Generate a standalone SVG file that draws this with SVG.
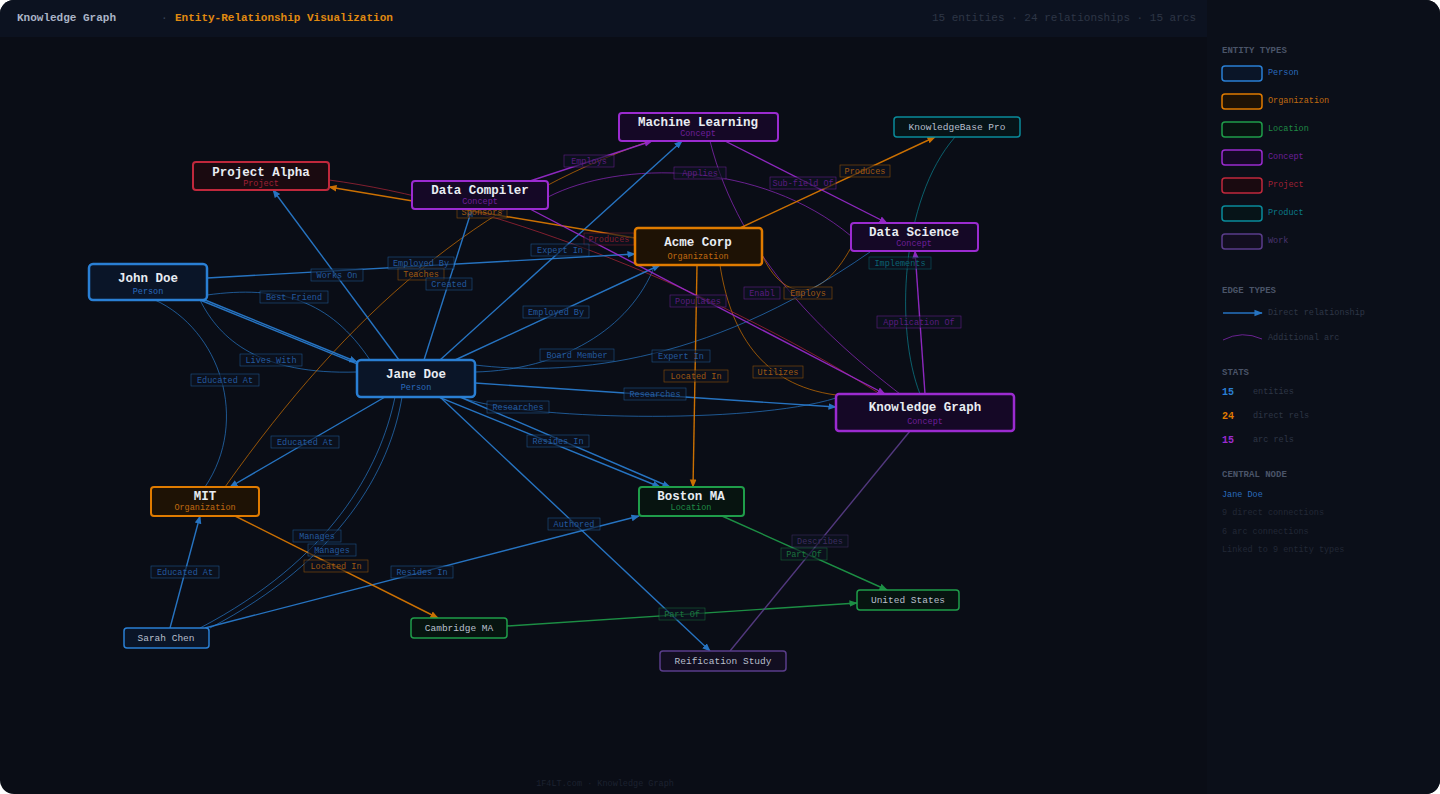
<svg xmlns="http://www.w3.org/2000/svg" width="1440" height="794" viewBox="0 0 1440 794">
<defs>
<style>
text{font-family:"Liberation Mono","DejaVu Sans Mono",monospace}
.t{fill:#e8ecf2;font-weight:bold;font-size:12.5px;text-anchor:middle}
.ts{fill:#b8bfcc;font-size:9.5px;text-anchor:middle}
.st{font-size:8.5px;text-anchor:middle}
.e{fill:none;stroke-width:1.4;opacity:.9}
.a{fill:none;stroke-width:1;opacity:.65}
.lb{fill:#0c1220;stroke-width:.6;opacity:.6}
.lt{font-size:8.5px;text-anchor:middle;opacity:.8}
.b{stroke:#2a7fd4}.o{stroke:#e07b00}.g{stroke:#1f9d4a}.p{stroke:#9b2bd0}.r{stroke:#c0283c}.c{stroke:#0a8a9a}.w{stroke:#5a3d8a}
.fb{fill:#2a6bbf}.fo{fill:#c06a10}.fg{fill:#1f8a45}.fp{fill:#6e1f9a}.fr{fill:#a02035}.fc{fill:#0a7a8a}.fw{fill:#4a3470}
.nb{fill:#0a1528;stroke:#2a7fd4}.no{fill:#1e1205;stroke:#e07b00}.ng{fill:#071410;stroke:#1f9d4a}.np{fill:#150826;stroke:#9b2bd0}.nr{fill:#1a0a10;stroke:#c0283c}.nc{fill:#061418;stroke:#0a8a9a}.nw{fill:#120e20;stroke:#5a3d8a}
.h{fill:#4a5468;font-size:9px;font-weight:bold}
.m{fill:#2e3646;font-size:8.5px}
</style>
<marker id="mb" viewBox="0 0 10 10" refX="9" refY="5" markerWidth="6" markerHeight="6" orient="auto"><path d="M0,1 L10,5 L0,9z" fill="#2a7fd4"/></marker>
<marker id="mo" viewBox="0 0 10 10" refX="9" refY="5" markerWidth="6" markerHeight="6" orient="auto"><path d="M0,1 L10,5 L0,9z" fill="#e07b00"/></marker>
<marker id="mg" viewBox="0 0 10 10" refX="9" refY="5" markerWidth="6" markerHeight="6" orient="auto"><path d="M0,1 L10,5 L0,9z" fill="#1f9d4a"/></marker>
<marker id="mp" viewBox="0 0 10 10" refX="9" refY="5" markerWidth="6" markerHeight="6" orient="auto"><path d="M0,1 L10,5 L0,9z" fill="#9b2bd0"/></marker>
</defs>
<rect width="1440" height="794" fill="#ffffff"/>
<rect width="1440" height="794" rx="14" fill="#0a0d16"/>
<path d="M14,0 H1207 V37 H0 V14 A14,14 0 0 1 14,0z" fill="#0c1220"/>
<path d="M1207,0 H1426 A14,14 0 0 1 1440,14 V780 A14,14 0 0 1 1426,794 H1207z" fill="#0b0f19"/>
<text x="17" y="21" fill="#aab4c6" font-size="11" font-weight="bold">Knowledge Graph</text>
<text x="161" y="21" fill="#3a4458" font-size="11">·</text>
<text x="175" y="21" fill="#e08a10" font-size="11" font-weight="bold">Entity-Relationship Visualization</text>
<text x="1196" y="21" fill="#2e3646" font-size="11" text-anchor="end">15 entities  ·  24 relationships  ·  15 arcs</text>
<text x="605" y="786" fill="#1c2230" font-size="8.5" text-anchor="middle">1F4LT.com · Knowledge Graph</text>

<g id="connectors">
<path class="a p" d="M548,197 C620,160 760,160 851,236"/>
<path class="a p" d="M710,141 C740,260 830,340 900,394"/>
<path class="a o" d="M760,250 C780,300 820,310 855,240"/>
<path class="a o" d="M720,265 C730,330 760,385 836,395"/>
<path class="a b" d="M475,365 C560,375 700,370 870,252"/>
<path class="a b" d="M475,372 C560,370 630,330 655,265"/>
<path class="a b" d="M460,397 C520,420 750,425 836,398"/>
<path class="a b" d="M207,295 C280,285 330,300 370,360"/>
<path class="a b" d="M200,300 C220,340 260,375 357,372"/>
<path class="a b" d="M155,300 C220,330 250,420 205,487"/>
<path class="a b" d="M200,628 C330,560 380,470 395,397"/>
<path class="a b" d="M210,628 C340,560 390,470 402,397"/>
<path class="a c" d="M955,137 C900,200 895,330 920,394"/>
<path class="a r" d="M329,180 C480,200 700,280 880,394"/>
<path class="a o" d="M225,487 C350,310 480,200 650,141"/>
<path class="e b" marker-end="url(#mb)" d="M207,278 L635,254"/>
<path class="e b" marker-end="url(#mb)" d="M399,360 L273,190"/>
<path class="e b" marker-end="url(#mb)" d="M424,360 L472,209"/>
<path class="e b" marker-end="url(#mb)" d="M440,360 L682,141"/>
<path class="e b" marker-end="url(#mb)" d="M455,360 L660,265"/>
<path class="e b" marker-end="url(#mb)" d="M475,383 L836,407"/>
<path class="e b" marker-end="url(#mb)" d="M200,300 L660,487"/>
<path class="e b" marker-end="url(#mb)" d="M205,300 L357,362"/>
<path class="e b" marker-end="url(#mb)" d="M460,397 L670,487"/>
<path class="e b" marker-end="url(#mb)" d="M385,397 L230,487"/>
<path class="e b" marker-end="url(#mb)" d="M440,397 L710,651"/>
<path class="e b" marker-end="url(#mb)" d="M170,628 L200,516"/>
<path class="e b" marker-end="url(#mb)" d="M205,628 L639,516"/>
<path class="e o" marker-end="url(#mo)" d="M235,516 L438,618"/>
<path class="e o" marker-end="url(#mo)" d="M697,265 L693,487"/>
<path class="e o" marker-end="url(#mo)" d="M635,238 L329,187"/>
<path class="e o" marker-end="url(#mo)" d="M740,228 L935,137"/>
<path class="e g" marker-end="url(#mg)" d="M722,516 L887,590"/>
<path class="e g" marker-end="url(#mg)" d="M507,626 L857,603"/>
<path class="e w" d="M730,651 L910,431"/>
<path class="e p" marker-end="url(#mp)" d="M530,181 L652,141"/>
<path class="e p" marker-end="url(#mp)" d="M725,141 L887,223"/>
<path class="e p" marker-end="url(#mp)" d="M925,394 L915,251"/>
<path class="e p" marker-end="url(#mp)" d="M530,209 L885,394"/>
<g>
<rect class="lb p" x="674" y="167" width="52" height="12"/><text class="lt fp" x="700" y="176">Applies</text>
<rect class="lb p" x="744" y="287" width="36" height="12"/><text class="lt fp" x="762" y="296">Enabl</text>
<rect class="lb o" x="784" y="287" width="48" height="12"/><text class="lt fo" x="808" y="296">Employs</text>
<rect class="lb o" x="753" y="366" width="50" height="12"/><text class="lt fo" x="778" y="375">Utilizes</text>
<rect class="lb b" x="652" y="350" width="58" height="12"/><text class="lt fb" x="681" y="359">Expert In</text>
<rect class="lb b" x="540" y="349" width="74" height="12"/><text class="lt fb" x="577" y="358">Board Member</text>
<rect class="lb b" x="487" y="401" width="62" height="12"/><text class="lt fb" x="518" y="410">Researches</text>
<rect class="lb b" x="260" y="291" width="68" height="12"/><text class="lt fb" x="294" y="300">Best Friend</text>
<rect class="lb b" x="240" y="354" width="62" height="12"/><text class="lt fb" x="271" y="363">Lives With</text>
<rect class="lb b" x="191" y="374" width="68" height="12"/><text class="lt fb" x="225" y="383">Educated At</text>
<rect class="lb b" x="308" y="544" width="48" height="12"/><text class="lt fb" x="332" y="553">Manages</text>
<rect class="lb b" x="293" y="530" width="48" height="12"/><text class="lt fb" x="317" y="539">Manages</text>
<rect class="lb c" x="869" y="257" width="62" height="12"/><text class="lt fc" x="900" y="266">Implements</text>
<rect class="lb r" x="584" y="233" width="50" height="12"/><text class="lt fr" x="609" y="242">Produces</text>
<rect class="lb o" x="398" y="268" width="46" height="12"/><text class="lt fo" x="421" y="277">Teaches</text>
<rect class="lb b" x="388" y="257" width="66" height="12"/><text class="lt fb" x="421" y="266">Employed By</text>
<rect class="lb b" x="311" y="269" width="52" height="12"/><text class="lt fb" x="337" y="278">Works On</text>
<rect class="lb b" x="426" y="278" width="46" height="12"/><text class="lt fb" x="449" y="287">Created</text>
<rect class="lb b" x="531" y="244" width="58" height="12"/><text class="lt fb" x="560" y="253">Expert In</text>
<rect class="lb b" x="523" y="306" width="66" height="12"/><text class="lt fb" x="556" y="315">Employed By</text>
<rect class="lb b" x="624" y="388" width="62" height="12"/><text class="lt fb" x="655" y="397">Researches</text>
<rect class="lb b" x="527" y="435" width="62" height="12"/><text class="lt fb" x="558" y="444">Resides In</text>
<rect class="lb b" x="271" y="436" width="68" height="12"/><text class="lt fb" x="305" y="445">Educated At</text>
<rect class="lb b" x="548" y="518" width="52" height="12"/><text class="lt fb" x="574" y="527">Authored</text>
<rect class="lb b" x="151" y="566" width="68" height="12"/><text class="lt fb" x="185" y="575">Educated At</text>
<rect class="lb b" x="391" y="566" width="62" height="12"/><text class="lt fb" x="422" y="575">Resides In</text>
<rect class="lb o" x="304" y="560" width="64" height="12"/><text class="lt fo" x="336" y="569">Located In</text>
<rect class="lb o" x="664" y="370" width="64" height="12"/><text class="lt fo" x="696" y="379">Located In</text>
<rect class="lb o" x="457" y="206" width="50" height="12"/><text class="lt fo" x="482" y="215">Sponsors</text>
<rect class="lb o" x="840" y="165" width="50" height="12"/><text class="lt fo" x="865" y="174">Produces</text>
<rect class="lb p" x="770" y="177" width="66" height="12"/><text class="lt fp" x="803" y="186">Sub-field Of</text>
<rect class="lb w" x="792" y="535" width="56" height="12"/><text class="lt fw" x="820" y="544">Describes</text>
<rect class="lb g" x="781" y="548" width="46" height="12"/><text class="lt fg" x="804" y="557">Part Of</text>
<rect class="lb g" x="659" y="608" width="46" height="12"/><text class="lt fg" x="682" y="617">Part Of</text>
<rect class="lb p" x="564" y="155" width="50" height="12"/><text class="lt fp" x="589" y="164">Employs</text>
<rect class="lb p" x="877" y="316" width="84" height="12"/><text class="lt fp" x="919" y="325">Application Of</text>
<rect class="lb p" x="670" y="295" width="56" height="12"/><text class="lt fp" x="698" y="304">Populates</text>
</g>
</g>

<g id="n-john"><rect class="nb" x="89" y="264" width="118" height="36" rx="4" stroke-width="2.5"/><text class="t" x="148" y="282">John Doe</text><text class="st fb" x="148" y="294">Person</text></g>
<g id="n-jane"><rect class="nb" x="357" y="360" width="118" height="37" rx="4" stroke-width="2.5"/><text class="t" x="416" y="378">Jane Doe</text><text class="st fb" x="416" y="390">Person</text></g>
<g id="n-alpha"><rect class="nr" x="193" y="162" width="136" height="28" rx="3" stroke-width="2"/><text class="t" x="261" y="176">Project Alpha</text><text class="st fr" x="261" y="186">Project</text></g>
<g id="n-dc"><rect class="np" x="412" y="181" width="136" height="28" rx="3" stroke-width="2"/><text class="t" x="480" y="194">Data Compiler</text><text class="st fp" x="480" y="204">Concept</text></g>
<g id="n-ml"><rect class="np" x="619" y="113" width="159" height="28" rx="3" stroke-width="2"/><text class="t" x="698" y="126">Machine Learning</text><text class="st fp" x="698" y="136">Concept</text></g>
<g id="n-acme"><rect class="no" x="635" y="228" width="127" height="37" rx="3" stroke-width="2.5"/><text class="t" x="698" y="246">Acme Corp</text><text class="st fo" x="698" y="259">Organization</text></g>
<g id="n-kbp"><rect class="nc" x="894" y="117" width="126" height="20" rx="3" stroke-width="1.5"/><text class="ts" x="957" y="130">KnowledgeBase Pro</text></g>
<g id="n-ds"><rect class="np" x="851" y="223" width="127" height="28" rx="3" stroke-width="2"/><text class="t" x="914" y="236">Data Science</text><text class="st fp" x="914" y="246">Concept</text></g>
<g id="n-kg"><rect class="np" x="836" y="394" width="178" height="37" rx="3" stroke-width="2.5"/><text class="t" x="925" y="411">Knowledge Graph</text><text class="st fp" x="925" y="424">Concept</text></g>
<g id="n-mit"><rect class="no" x="151" y="487" width="108" height="29" rx="3" stroke-width="2"/><text class="t" x="205" y="500">MIT</text><text class="st fo" x="205" y="510">Organization</text></g>
<g id="n-boston"><rect class="ng" x="639" y="487" width="105" height="29" rx="3" stroke-width="2"/><text class="t" x="691" y="500">Boston MA</text><text class="st fg" x="691" y="510">Location</text></g>
<g id="n-sarah"><rect class="nb" x="124" y="628" width="85" height="20" rx="3" stroke-width="1.5"/><text class="ts" x="166" y="641">Sarah Chen</text></g>
<g id="n-cam"><rect class="ng" x="411" y="618" width="96" height="20" rx="3" stroke-width="1.5"/><text class="ts" x="459" y="631">Cambridge MA</text></g>
<g id="n-us"><rect class="ng" x="857" y="590" width="102" height="20" rx="3" stroke-width="1.5"/><text class="ts" x="908" y="603">United States</text></g>
<g id="n-reif"><rect class="nw" x="660" y="651" width="126" height="20" rx="3" stroke-width="1.5"/><text class="ts" x="723" y="664">Reification Study</text></g>

<g id="legend">
<text class="h" x="1222" y="53">ENTITY TYPES</text>
<rect class="nb" x="1222" y="66" width="40" height="15" rx="3" stroke-width="1.5"/><text x="1268" y="75" font-size="8.5" class="fb">Person</text>
<rect class="no" x="1222" y="94" width="40" height="15" rx="3" stroke-width="1.5"/><text x="1268" y="103" font-size="8.5" class="fo">Organization</text>
<rect class="ng" x="1222" y="122" width="40" height="15" rx="3" stroke-width="1.5"/><text x="1268" y="131" font-size="8.5" class="fg">Location</text>
<rect class="np" x="1222" y="150" width="40" height="15" rx="3" stroke-width="1.5"/><text x="1268" y="159" font-size="8.5" class="fp">Concept</text>
<rect class="nr" x="1222" y="178" width="40" height="15" rx="3" stroke-width="1.5"/><text x="1268" y="187" font-size="8.5" class="fr">Project</text>
<rect class="nc" x="1222" y="206" width="40" height="15" rx="3" stroke-width="1.5"/><text x="1268" y="215" font-size="8.5" class="fc">Product</text>
<rect class="nw" x="1222" y="234" width="40" height="15" rx="3" stroke-width="1.5"/><text x="1268" y="243" font-size="8.5" class="fw">Work</text>
<text class="h" x="1222" y="293">EDGE TYPES</text>
<path class="e b" marker-end="url(#mb)" d="M1223,313 H1262"/><text class="m" x="1268" y="315">Direct relationship</text>
<path class="a p" d="M1223,340 Q1242,330 1262,339"/><text class="m" x="1268" y="340">Additional arc</text>
<text class="h" x="1222" y="375">STATS</text>
<text x="1222" y="395" font-size="10" font-weight="bold" fill="#2a7fd4">15</text><text class="m" x="1253" y="394">entities</text>
<text x="1222" y="419" font-size="10" font-weight="bold" fill="#e07b00">24</text><text class="m" x="1253" y="418">direct rels</text>
<text x="1222" y="443" font-size="10" font-weight="bold" fill="#9b2bd0">15</text><text class="m" x="1253" y="442">arc rels</text>
<text class="h" x="1222" y="477">CENTRAL NODE</text>
<text x="1222" y="497" font-size="8.5" fill="#2a6bbf">Jane Doe</text>
<text x="1222" y="515" font-size="8.5" fill="#222836">9 direct connections</text>
<text x="1222" y="534" font-size="8.5" fill="#222836">6 arc connections</text>
<text x="1222" y="552" font-size="8.5" fill="#222836">Linked to 9 entity types</text>
</g>
</svg>
